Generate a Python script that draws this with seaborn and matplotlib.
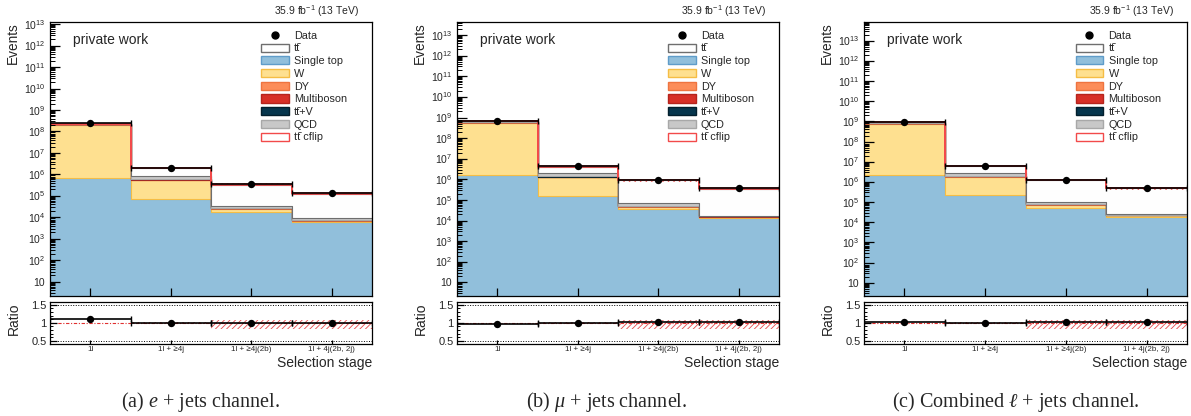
import numpy as np
import pandas as pd
import matplotlib
matplotlib.use("Agg")
import matplotlib.pyplot as plt
import seaborn as sns
from matplotlib.colors import to_hex
from matplotlib.patches import Patch
from matplotlib.lines import Line2D
from matplotlib.ticker import FixedLocator, LogLocator, FuncFormatter, NullFormatter, MultipleLocator

sns.set_theme(style="ticks")
plt.rcParams["font.family"] = ["Liberation Sans", "DejaVu Sans"]
plt.rcParams["mathtext.fontset"] = "custom"
plt.rcParams["mathtext.rm"] = "Liberation Sans"
plt.rcParams["mathtext.it"] = "Liberation Serif:italic"
plt.rcParams["mathtext.bf"] = "Liberation Sans:bold"
plt.rcParams["hatch.linewidth"] = 0.6
plt.rcParams["axes.axisbelow"] = False

# ---- selection stages -------------------------------------------------------
stages = ["1l", "1l + \u22654j", "1l + \u22654j(2b)", "1l + 4j(2b, 2j)"]

# ---- event yields per channel (one value per selection stage) ---------------
ejets = {
    "ttbar":       [7.0e6, 1.10e6, 3.00e5, 1.15e5],
    "single_top":  [6.6e5, 7.0e4, 1.70e4, 5.9e3],
    "w":           [2.0e8, 4.6e5, 8.0e3, 1.1e3],
    "dy":          [1.2e7, 5.0e4, 1.5e3, 3.0e2],
    "multiboson":  [4.0e5, 1.2e4, 5.0e2, 1.5e2],
    "ttv":         [3.0e4, 5.0e3, 3.0e2, 1.5e2],
    "qcd":         [1.5e7, 2.5e5, 6.0e3, 1.8e3],
    "ttbar_cflip": [2.0e5, 5.0e4, 1.6e4, 6.0e3],
}
ejets_data = [2.60e8, 2.00e6, 3.52e5, 1.31e5]

mujets = {
    "ttbar":       [2.5e7, 2.2e6, 8.3e5, 3.35e5],
    "single_top":  [1.6e6, 1.6e5, 3.5e4, 1.3e4],
    "w":           [5.6e8, 1.09e6, 1.3e4, 2.0e3],
    "dy":          [6.0e7, 1.0e5, 3.0e3, 6.0e2],
    "multiboson":  [1.2e6, 2.5e4, 1.0e3, 3.0e2],
    "ttv":         [8.0e4, 1.0e4, 7.0e2, 3.0e2],
    "qcd":         [6.0e7, 6.0e5, 1.7e4, 1.0e3],
    "ttbar_cflip": [4.0e5, 8.0e4, 4.0e4, 1.7e4],
}
mujets_data = [6.90e8, 4.30e6, 9.60e5, 3.76e5]

ljets = {
    "ttbar":       [3.2e7, 3.3e6, 1.13e6, 4.5e5],
    "single_top":  [2.26e6, 2.3e5, 5.2e4, 1.9e4],
    "w":           [7.6e8, 1.55e6, 2.1e4, 3.1e3],
    "dy":          [7.2e7, 1.5e5, 4.5e3, 9.0e2],
    "multiboson":  [1.6e6, 3.7e4, 1.5e3, 4.5e2],
    "ttv":         [1.1e5, 1.5e4, 1.0e3, 4.5e2],
    "qcd":         [7.5e7, 8.5e5, 2.3e4, 2.8e3],
    "ttbar_cflip": [6.0e5, 1.3e5, 5.6e4, 2.3e4],
}
ljets_data = [9.60e8, 6.30e6, 1.31e6, 5.05e5]

# relative systematic uncertainty on the prediction
unc_down = [0.005, 0.03, 0.18, 0.18]
unc_up = [0.005, 0.03, 0.09, 0.09]

channels = [
    (ejets, ejets_data, (2.2, 1.25e13), "(a) $e$ + jets channel."),
    (mujets, mujets_data, (2.2, 4.3e13), "(b) $\\mu$ + jets channel."),
    (ljets, ljets_data, (2.2, 8.5e13), "(c) Combined $\\ell$ + jets channel."),
]

# ---- process styling (stack listed from top to bottom) ----------------------
stack_order = ["ttbar_cflip", "ttbar", "qcd", "ttv", "multiboson", "dy", "w", "single_top"]
legend_order = ["ttbar", "single_top", "w", "dy", "multiboson", "ttv", "qcd", "ttbar_cflip"]
TTBAR = "t\u0074\u0304"
labels = {
    "ttbar": TTBAR,
    "single_top": "Single top",
    "w": "W",
    "dy": "DY",
    "multiboson": "Multiboson",
    "ttv": TTBAR + "+V",
    "qcd": "QCD",
    "ttbar_cflip": TTBAR + " cflip",
}
face = {
    "ttbar": "#fefefe",
    "single_top": "#91bfdb",
    "w": "#fee090",
    "dy": "#fc8d59",
    "multiboson": "#d73027",
    "ttv": "#06364d",
    "qcd": "#c8c8c8",
    "ttbar_cflip": "#ffffff",
}
edge = {
    "ttbar": "#6e6e6e",
    "single_top": "#5f9cc9",
    "w": "#f5bd45",
    "dy": "#ee7440",
    "multiboson": "#b5241d",
    "ttv": "#031f2d",
    "qcd": "#a8a8a8",
    "ttbar_cflip": "#f24a4a",
}
edge_by_face = {to_hex(face[p]): edge[p] for p in face}
band_red = "#e5484a"

edges = np.arange(len(stages) + 1)
centers = edges[:-1] + 0.5

W_PX, H_PX = 1191, 416
fig = plt.figure(figsize=(W_PX / 100, H_PX / 100), dpi=100)


def axes_px(left, top, right, bottom):
    return fig.add_axes([left / W_PX, 1 - bottom / H_PX,
                         (right - left) / W_PX, (bottom - top) / H_PX])


def log_label(v, _pos):
    n = int(round(np.log10(v)))
    return "10" if n == 1 else f"$10^{{{n}}}$"


panel_x = [(50, 372), (457, 779), (864, 1187)]
caption_x = [201, 607, 1016]

for (yields, data, ylim, caption), (x0, x1), cx in zip(channels, panel_x, caption_x):
    ax = axes_px(x0, 22, x1, 296)
    axr = axes_px(x0, 302, x1, 344)

    frame = pd.DataFrame({
        "stage": np.tile(centers, len(stack_order)),
        "process": np.repeat(stack_order, len(stages)),
        "events": np.concatenate([yields[p] for p in stack_order]),
    })
    sns.histplot(data=frame, x="stage", weights="events", hue="process",
                 hue_order=stack_order, palette=face, multiple="stack",
                 element="step", bins=len(stages), binrange=(0, len(stages)),
                 fill=True, alpha=1, linewidth=0.8, legend=False, ax=ax)
    for coll in ax.collections:
        fc = to_hex(coll.get_facecolor()[0])
        coll.set_edgecolor(edge_by_face.get(fc, "#555555"))
        if fc == to_hex(face["ttbar_cflip"]):
            coll.set_linewidth(1.1)
            coll.set_zorder(1.5)

    total = np.sum([yields[p] for p in stack_order], axis=0)
    lo = total * (1 - np.array(unc_down))
    hi = total * (1 + np.array(unc_up))
    ax.fill_between(edges, np.append(lo, lo[-1]), np.append(hi, hi[-1]), step="post",
                    facecolor="none", edgecolor=band_red, hatch="//////",
                    linewidth=0, zorder=2)

    # data points with bin-width bars
    ax.errorbar(centers, data, xerr=0.5, fmt="none", ecolor="black",
                elinewidth=1.2, capsize=2.2, capthick=1.0, zorder=4)
    sns.scatterplot(x=centers, y=data, color="black", s=28, edgecolor="black",
                    linewidth=0, zorder=5, legend=False, ax=ax)

    ax.set_yscale("log")
    ax.set_xlim(0, 4)
    ax.set_ylim(*ylim)
    ax.yaxis.set_major_locator(FixedLocator([10.0 ** k for k in range(1, 14)]))
    ax.yaxis.set_major_formatter(FuncFormatter(log_label))
    ax.yaxis.set_minor_locator(LogLocator(base=10, subs=np.arange(2, 10), numticks=300))
    ax.yaxis.set_minor_formatter(NullFormatter())
    ax.set_xticks(centers)
    ax.set_xticklabels([])
    ax.xaxis.set_minor_locator(FixedLocator([]))
    ax.set_xlabel("")
    ax.set_ylabel("")
    ax.tick_params(axis="y", which="major", direction="in", length=7, width=0.9,
                   labelsize=7.5, pad=3.5, left=True, right=False, color="black")
    ax.tick_params(axis="y", which="minor", direction="in", length=3.5, width=0.7,
                   left=True, right=False, color="black")
    ax.tick_params(axis="x", which="both", direction="in", length=5.5, width=0.9,
                   top=False, bottom=True, color="black")
    for sp in ax.spines.values():
        sp.set_visible(True)
        sp.set_linewidth(0.9)
        sp.set_color("black")
        sp.set_zorder(6)

    ax.text(0.071, 0.934, "private work", transform=ax.transAxes,
            fontsize=10, ha="left", va="center")
    ax.text(0.96, 1.012, "35.9 fb$^{-1}$ (13 TeV)", transform=ax.transAxes,
            fontsize=7.5, ha="right", va="bottom")

    handles = [Line2D([], [], marker="o", color="black", linestyle="none", markersize=5)]
    handles += [Patch(facecolor=face[p], edgecolor=edge[p], linewidth=1.0) for p in legend_order]
    leg = ax.legend(handles, ["Data"] + [labels[p] for p in legend_order],
                    loc="upper left", bbox_to_anchor=(0.655, 0.968), frameon=False,
                    fontsize=7.8, handlelength=2.55, handleheight=0.77,
                    handletextpad=0.5, labelspacing=0.25, borderpad=0,
                    borderaxespad=0)
    leg.set_zorder(7)

    fig.text((x0 - 37) / W_PX, 1 - 22 / H_PX, "Events", rotation=90,
             fontsize=9.8, ha="center", va="top")

    # ---- ratio panel -------------------------------------------------------
    ratio = np.array(data) / total
    axr.fill_between(edges, np.append(1 - np.array(unc_down), 1 - unc_down[-1]),
                     np.append(1 + np.array(unc_up), 1 + unc_up[-1]), step="post",
                     facecolor="none", edgecolor=band_red, hatch="//////",
                     linewidth=0, zorder=2)
    axr.axhline(1.0, color="#e03030", linewidth=0.8, linestyle=(0, (3, 1.5, 1, 1.5)), zorder=1)
    for lvl in (0.5, 1.5):
        axr.axhline(lvl, color="black", linewidth=0.7, linestyle=(0, (1, 1.6)), zorder=1)
    axr.errorbar(centers, ratio, xerr=0.5, fmt="none", ecolor="black",
                 elinewidth=1.2, capsize=2.2, capthick=1.0, zorder=4)
    sns.scatterplot(x=centers, y=ratio, color="black", s=28, edgecolor="black",
                    linewidth=0, zorder=5, legend=False, ax=axr)
    axr.set_xlim(0, 4)
    axr.set_ylim(0.41, 1.58)
    axr.set_xticks(centers)
    axr.set_xticklabels(stages, fontsize=5.8)
    axr.set_yticks([0.5, 1.0, 1.5])
    axr.set_yticklabels(["0.5", "1", "1.5"], fontsize=8)
    axr.yaxis.set_minor_locator(MultipleLocator(0.1))
    axr.xaxis.set_minor_locator(FixedLocator([]))
    axr.tick_params(axis="y", which="major", direction="in", length=5, width=0.9,
                    pad=2.5, left=True, right=False, color="black")
    axr.tick_params(axis="y", which="minor", direction="in", length=2.5, width=0.7,
                    left=True, right=False, color="black")
    axr.tick_params(axis="x", which="major", direction="in", length=3, width=0.9,
                    pad=1.5, top=False, bottom=True, color="black")
    axr.set_xlabel("")
    axr.set_ylabel("")
    for sp in axr.spines.values():
        sp.set_visible(True)
        sp.set_linewidth(0.9)
        sp.set_color("black")
    axr.text(1.0, -0.445, "Selection stage", transform=axr.transAxes,
             fontsize=10, ha="right", va="center")
    fig.text((x0 - 36) / W_PX, 1 - 319 / H_PX, "Ratio", rotation=90,
             fontsize=10, ha="center", va="center")

    fig.text(cx / W_PX, 1 - 407 / H_PX, caption, fontsize=14.5,
             family=["Liberation Serif", "DejaVu Serif"], ha="center", va="baseline")

fig.savefig("out.png", dpi=100, facecolor="white")
